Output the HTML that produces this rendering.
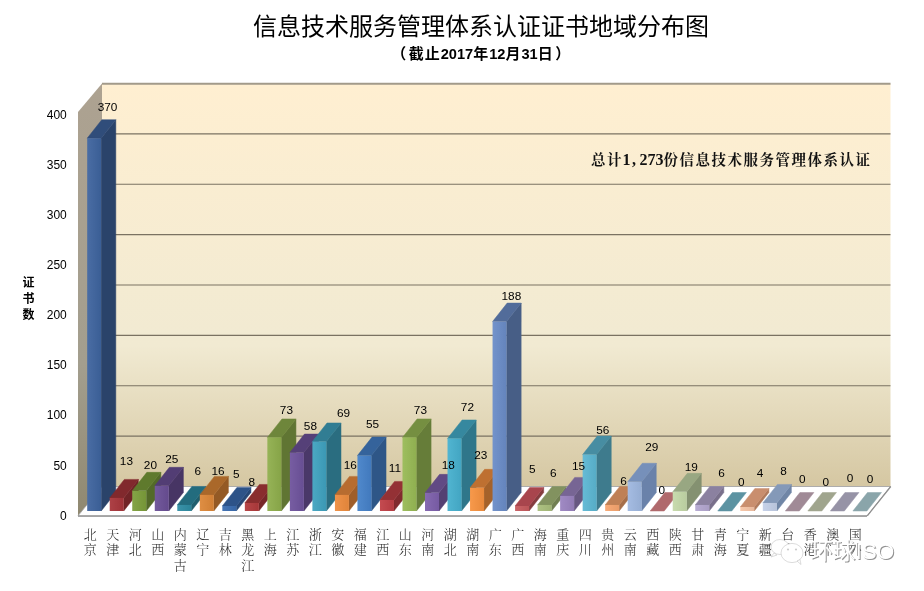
<!DOCTYPE html>
<html lang="zh-CN"><head><meta charset="utf-8"><title>信息技术服务管理体系认证证书地域分布图</title>
<style>
html,body{margin:0;padding:0;background:#fff;overflow:hidden;}
#c{filter:blur(0.35px);position:relative;width:924px;height:591px;overflow:hidden;background:#fff;font-family:"Liberation Sans","Noto Sans CJK SC",sans-serif;color:#000;}
.title{position:absolute;left:253px;top:9.2px;width:456px;font-size:24px;line-height:36px;white-space:nowrap;font-family:"Liberation Sans","Noto Sans CJK SC",sans-serif;color:#000;}
.sub{position:absolute;left:391.2px;top:42px;height:24px;line-height:24px;white-space:nowrap;font-weight:bold;}
.sub .c{font-size:15px;letter-spacing:1px;font-family:"Liberation Sans","Noto Sans CJK SC",sans-serif;}
.sub .n{font-size:14.6px;font-family:"Liberation Sans",sans-serif;}
.note{position:absolute;left:591px;top:148px;height:24px;line-height:24px;white-space:nowrap;font-weight:bold;color:#111;}
.note .c{font-size:14.5px;letter-spacing:1.5px;font-family:"Liberation Serif","Noto Serif CJK SC",serif;}
.note .m{font-size:16px;font-family:"Liberation Serif",serif;margin-left:-0.5px}
.note .m i{font-style:normal;display:inline-block;width:8px;text-align:left;text-indent:1.5px;margin-right:1px}
.ytitle{position:absolute;left:18.5px;top:274.5px;width:20px;text-align:center;font-size:12px;line-height:16px;font-weight:700;font-family:"Liberation Sans","Noto Sans CJK SC",sans-serif;}
.yl{position:absolute;left:20px;width:46.8px;text-align:right;font-size:12px;line-height:16px;height:16px;}
.dl{position:absolute;width:40px;text-align:center;font-size:11.8px;line-height:16px;height:16px;}
.xl{position:absolute;top:526.5px;width:20px;text-align:center;font-size:13px;line-height:15.7px;font-family:"Liberation Serif","Noto Serif CJK SC",serif;color:#2a2a2a;font-weight:300;}
</style></head>
<body><div id="c">
<svg width="924" height="591" viewBox="0 0 924 591" style="position:absolute;left:0;top:0">
<defs>
<linearGradient id="wall" x1="0" y1="0" x2="0" y2="1"><stop offset="0" stop-color="#FFEFD1"/><stop offset="0.65" stop-color="#F1EAD2"/><stop offset="1" stop-color="#D5C7A2"/></linearGradient>
<linearGradient id="side" x1="0" y1="0" x2="0" y2="1"><stop offset="0" stop-color="#ADA291"/><stop offset="0.65" stop-color="#A39E8E"/><stop offset="1" stop-color="#8F8870"/></linearGradient>
<linearGradient id="f0" x1="0" y1="0" x2="1" y2="0"><stop offset="0" stop-color="#4A6DA4"/><stop offset="1" stop-color="#3A5E95"/></linearGradient>
<linearGradient id="f1" x1="0" y1="0" x2="1" y2="0"><stop offset="0" stop-color="#AD4146"/><stop offset="1" stop-color="#9E3237"/></linearGradient>
<linearGradient id="f2" x1="0" y1="0" x2="1" y2="0"><stop offset="0" stop-color="#84A447"/><stop offset="1" stop-color="#759537"/></linearGradient>
<linearGradient id="f3" x1="0" y1="0" x2="1" y2="0"><stop offset="0" stop-color="#735A9C"/><stop offset="1" stop-color="#644A8D"/></linearGradient>
<linearGradient id="f4" x1="0" y1="0" x2="1" y2="0"><stop offset="0" stop-color="#3B93A9"/><stop offset="1" stop-color="#2B8499"/></linearGradient>
<linearGradient id="f5" x1="0" y1="0" x2="1" y2="0"><stop offset="0" stop-color="#DF8E43"/><stop offset="1" stop-color="#D07F34"/></linearGradient>
<linearGradient id="f6" x1="0" y1="0" x2="1" y2="0"><stop offset="0" stop-color="#4675B5"/><stop offset="1" stop-color="#3766A5"/></linearGradient>
<linearGradient id="f7" x1="0" y1="0" x2="1" y2="0"><stop offset="0" stop-color="#B74648"/><stop offset="1" stop-color="#A73738"/></linearGradient>
<linearGradient id="f8" x1="0" y1="0" x2="1" y2="0"><stop offset="0" stop-color="#96B357"/><stop offset="1" stop-color="#86A447"/></linearGradient>
<linearGradient id="f9" x1="0" y1="0" x2="1" y2="0"><stop offset="0" stop-color="#775DA2"/><stop offset="1" stop-color="#674E93"/></linearGradient>
<linearGradient id="f10" x1="0" y1="0" x2="1" y2="0"><stop offset="0" stop-color="#4BA8C3"/><stop offset="1" stop-color="#3B98B4"/></linearGradient>
<linearGradient id="f11" x1="0" y1="0" x2="1" y2="0"><stop offset="0" stop-color="#EF934A"/><stop offset="1" stop-color="#E0843A"/></linearGradient>
<linearGradient id="f12" x1="0" y1="0" x2="1" y2="0"><stop offset="0" stop-color="#5089CC"/><stop offset="1" stop-color="#4179BD"/></linearGradient>
<linearGradient id="f13" x1="0" y1="0" x2="1" y2="0"><stop offset="0" stop-color="#C44B50"/><stop offset="1" stop-color="#B43B41"/></linearGradient>
<linearGradient id="f14" x1="0" y1="0" x2="1" y2="0"><stop offset="0" stop-color="#9EBE5F"/><stop offset="1" stop-color="#8FAF50"/></linearGradient>
<linearGradient id="f15" x1="0" y1="0" x2="1" y2="0"><stop offset="0" stop-color="#866AB1"/><stop offset="1" stop-color="#765AA2"/></linearGradient>
<linearGradient id="f16" x1="0" y1="0" x2="1" y2="0"><stop offset="0" stop-color="#51B5D1"/><stop offset="1" stop-color="#42A5C2"/></linearGradient>
<linearGradient id="f17" x1="0" y1="0" x2="1" y2="0"><stop offset="0" stop-color="#F7994B"/><stop offset="1" stop-color="#E8893B"/></linearGradient>
<linearGradient id="f18" x1="0" y1="0" x2="1" y2="0"><stop offset="0" stop-color="#7393CB"/><stop offset="1" stop-color="#6484BC"/></linearGradient>
<linearGradient id="f19" x1="0" y1="0" x2="1" y2="0"><stop offset="0" stop-color="#CA6468"/><stop offset="1" stop-color="#BB5558"/></linearGradient>
<linearGradient id="f20" x1="0" y1="0" x2="1" y2="0"><stop offset="0" stop-color="#AEC283"/><stop offset="1" stop-color="#9FB374"/></linearGradient>
<linearGradient id="f21" x1="0" y1="0" x2="1" y2="0"><stop offset="0" stop-color="#A08AC4"/><stop offset="1" stop-color="#917BB4"/></linearGradient>
<linearGradient id="f22" x1="0" y1="0" x2="1" y2="0"><stop offset="0" stop-color="#66BBD6"/><stop offset="1" stop-color="#56ACC6"/></linearGradient>
<linearGradient id="f23" x1="0" y1="0" x2="1" y2="0"><stop offset="0" stop-color="#F8AB78"/><stop offset="1" stop-color="#E99C68"/></linearGradient>
<linearGradient id="f24" x1="0" y1="0" x2="1" y2="0"><stop offset="0" stop-color="#A5BCE2"/><stop offset="1" stop-color="#95ADD3"/></linearGradient>
<linearGradient id="f25" x1="0" y1="0" x2="1" y2="0"><stop offset="0" stop-color="#DBA0A1"/><stop offset="1" stop-color="#CC9192"/></linearGradient>
<linearGradient id="f26" x1="0" y1="0" x2="1" y2="0"><stop offset="0" stop-color="#C8DBAE"/><stop offset="1" stop-color="#B9CC9F"/></linearGradient>
<linearGradient id="f27" x1="0" y1="0" x2="1" y2="0"><stop offset="0" stop-color="#B8ACD3"/><stop offset="1" stop-color="#A99DC4"/></linearGradient>
<linearGradient id="f28" x1="0" y1="0" x2="1" y2="0"><stop offset="0" stop-color="#A2D2DE"/><stop offset="1" stop-color="#93C3CF"/></linearGradient>
<linearGradient id="f29" x1="0" y1="0" x2="1" y2="0"><stop offset="0" stop-color="#F7C8AB"/><stop offset="1" stop-color="#E7B89C"/></linearGradient>
<linearGradient id="f30" x1="0" y1="0" x2="1" y2="0"><stop offset="0" stop-color="#C7D2E9"/><stop offset="1" stop-color="#B7C3DA"/></linearGradient>
<linearGradient id="f31" x1="0" y1="0" x2="1" y2="0"><stop offset="0" stop-color="#E6C8C9"/><stop offset="1" stop-color="#D6B8BA"/></linearGradient>
<linearGradient id="f32" x1="0" y1="0" x2="1" y2="0"><stop offset="0" stop-color="#DEE7CB"/><stop offset="1" stop-color="#CFD7BC"/></linearGradient>
<linearGradient id="f33" x1="0" y1="0" x2="1" y2="0"><stop offset="0" stop-color="#D5CDE4"/><stop offset="1" stop-color="#C5BED4"/></linearGradient>
<linearGradient id="f34" x1="0" y1="0" x2="1" y2="0"><stop offset="0" stop-color="#C8E3E9"/><stop offset="1" stop-color="#B8D4DA"/></linearGradient>
</defs>
<polygon points="78,112 102,83.5 102,486.5 78,515.8" fill="url(#side)"/>
<rect x="102" y="83.5" width="788.5" height="403" fill="url(#wall)"/>
<line x1="102" y1="83.8" x2="890.5" y2="83.8" stroke="#A29A8A" stroke-width="1.9"/>
<line x1="102" y1="436.12" x2="890.5" y2="436.12" stroke="#7A7262" stroke-width="1.1"/>
<line x1="102" y1="385.75" x2="890.5" y2="385.75" stroke="#7A7262" stroke-width="1.1"/>
<line x1="102" y1="335.38" x2="890.5" y2="335.38" stroke="#7A7262" stroke-width="1.1"/>
<line x1="102" y1="285.00" x2="890.5" y2="285.00" stroke="#7A7262" stroke-width="1.1"/>
<line x1="102" y1="234.62" x2="890.5" y2="234.62" stroke="#7A7262" stroke-width="1.1"/>
<line x1="102" y1="184.25" x2="890.5" y2="184.25" stroke="#7A7262" stroke-width="1.1"/>
<line x1="102" y1="133.88" x2="890.5" y2="133.88" stroke="#7A7262" stroke-width="1.1"/>
<polygon points="78,515.8 102,486.5 890.5,486.5 867,515.8" fill="#FFFFFF" stroke="#9A9A9A" stroke-width="0.8"/>
<line x1="78" y1="516.1" x2="867" y2="516.1" stroke="#8E8E8E" stroke-width="1.4"/>
<line x1="867.3" y1="515.8" x2="890.8" y2="486.5" stroke="#8E8E8E" stroke-width="1.2"/>
<polygon points="101.20,511.00 115.80,492.50 115.80,119.72 101.20,138.22" fill="#2A436A" stroke="#2A436A" stroke-width="0.5" stroke-linejoin="round"/>
<polygon points="87.20,138.22 101.20,138.22 115.80,119.72 101.80,119.72" fill="#304D7A" stroke="#304D7A" stroke-width="0.5" stroke-linejoin="round"/>
<rect x="87.20" y="138.22" width="14.00" height="372.78" fill="url(#f0)"/>
<polygon points="123.72,511.00 138.32,492.50 138.32,479.40 123.72,497.90" fill="#712427" stroke="#712427" stroke-width="0.5" stroke-linejoin="round"/>
<polygon points="109.72,497.90 123.72,497.90 138.32,479.40 124.32,479.40" fill="#81292D" stroke="#81292D" stroke-width="0.5" stroke-linejoin="round"/>
<rect x="109.72" y="497.90" width="14.00" height="13.10" fill="url(#f1)"/>
<polygon points="146.24,511.00 160.84,492.50 160.84,472.35 146.24,490.85" fill="#536A28" stroke="#536A28" stroke-width="0.5" stroke-linejoin="round"/>
<polygon points="132.24,490.85 146.24,490.85 160.84,472.35 146.84,472.35" fill="#5F7A2D" stroke="#5F7A2D" stroke-width="0.5" stroke-linejoin="round"/>
<rect x="132.24" y="490.85" width="14.00" height="20.15" fill="url(#f2)"/>
<polygon points="168.76,511.00 183.36,492.50 183.36,467.31 168.76,485.81" fill="#473564" stroke="#473564" stroke-width="0.5" stroke-linejoin="round"/>
<polygon points="154.76,485.81 168.76,485.81 183.36,467.31 169.36,467.31" fill="#523D74" stroke="#523D74" stroke-width="0.5" stroke-linejoin="round"/>
<rect x="154.76" y="485.81" width="14.00" height="25.19" fill="url(#f3)"/>
<polygon points="191.28,511.00 205.88,492.50 205.88,486.45 191.28,504.95" fill="#1F5E6D" stroke="#1F5E6D" stroke-width="0.5" stroke-linejoin="round"/>
<polygon points="177.28,504.95 191.28,504.95 205.88,486.45 191.88,486.45" fill="#236C7E" stroke="#236C7E" stroke-width="0.5" stroke-linejoin="round"/>
<rect x="177.28" y="504.95" width="14.00" height="6.04" fill="url(#f4)"/>
<polygon points="213.80,511.00 228.40,492.50 228.40,476.38 213.80,494.88" fill="#945A25" stroke="#945A25" stroke-width="0.5" stroke-linejoin="round"/>
<polygon points="199.80,494.88 213.80,494.88 228.40,476.38 214.40,476.38" fill="#AA682A" stroke="#AA682A" stroke-width="0.5" stroke-linejoin="round"/>
<rect x="199.80" y="494.88" width="14.00" height="16.12" fill="url(#f5)"/>
<polygon points="236.32,511.00 250.92,492.50 250.92,487.46 236.32,505.96" fill="#274876" stroke="#274876" stroke-width="0.5" stroke-linejoin="round"/>
<polygon points="222.32,505.96 236.32,505.96 250.92,487.46 236.92,487.46" fill="#2D5388" stroke="#2D5388" stroke-width="0.5" stroke-linejoin="round"/>
<rect x="222.32" y="505.96" width="14.00" height="5.04" fill="url(#f6)"/>
<polygon points="258.84,511.00 273.44,492.50 273.44,484.44 258.84,502.94" fill="#772728" stroke="#772728" stroke-width="0.5" stroke-linejoin="round"/>
<polygon points="244.84,502.94 258.84,502.94 273.44,484.44 259.44,484.44" fill="#892D2E" stroke="#892D2E" stroke-width="0.5" stroke-linejoin="round"/>
<rect x="244.84" y="502.94" width="14.00" height="8.06" fill="url(#f7)"/>
<polygon points="281.36,511.00 295.96,492.50 295.96,418.95 281.36,437.45" fill="#607533" stroke="#607533" stroke-width="0.5" stroke-linejoin="round"/>
<polygon points="267.36,437.45 281.36,437.45 295.96,418.95 281.96,418.95" fill="#6E863B" stroke="#6E863B" stroke-width="0.5" stroke-linejoin="round"/>
<rect x="267.36" y="437.45" width="14.00" height="73.55" fill="url(#f8)"/>
<polygon points="303.88,511.00 318.48,492.50 318.48,434.06 303.88,452.56" fill="#4A3869" stroke="#4A3869" stroke-width="0.5" stroke-linejoin="round"/>
<polygon points="289.88,452.56 303.88,452.56 318.48,434.06 304.48,434.06" fill="#554078" stroke="#554078" stroke-width="0.5" stroke-linejoin="round"/>
<rect x="289.88" y="452.56" width="14.00" height="58.44" fill="url(#f9)"/>
<polygon points="326.40,511.00 341.00,492.50 341.00,422.98 326.40,441.48" fill="#2A6D80" stroke="#2A6D80" stroke-width="0.5" stroke-linejoin="round"/>
<polygon points="312.40,441.48 326.40,441.48 341.00,422.98 327.00,422.98" fill="#317D93" stroke="#317D93" stroke-width="0.5" stroke-linejoin="round"/>
<rect x="312.40" y="441.48" width="14.00" height="69.52" fill="url(#f10)"/>
<polygon points="348.92,511.00 363.52,492.50 363.52,476.38 348.92,494.88" fill="#9F5E2A" stroke="#9F5E2A" stroke-width="0.5" stroke-linejoin="round"/>
<polygon points="334.92,494.88 348.92,494.88 363.52,476.38 349.52,476.38" fill="#B76C30" stroke="#B76C30" stroke-width="0.5" stroke-linejoin="round"/>
<rect x="334.92" y="494.88" width="14.00" height="16.12" fill="url(#f11)"/>
<polygon points="371.44,511.00 386.04,492.50 386.04,437.09 371.44,455.59" fill="#2E5687" stroke="#2E5687" stroke-width="0.5" stroke-linejoin="round"/>
<polygon points="357.44,455.59 371.44,455.59 386.04,437.09 372.04,437.09" fill="#35639B" stroke="#35639B" stroke-width="0.5" stroke-linejoin="round"/>
<rect x="357.44" y="455.59" width="14.00" height="55.41" fill="url(#f12)"/>
<polygon points="393.96,511.00 408.56,492.50 408.56,481.42 393.96,499.92" fill="#812A2E" stroke="#812A2E" stroke-width="0.5" stroke-linejoin="round"/>
<polygon points="379.96,499.92 393.96,499.92 408.56,481.42 394.56,481.42" fill="#943135" stroke="#943135" stroke-width="0.5" stroke-linejoin="round"/>
<rect x="379.96" y="499.92" width="14.00" height="11.08" fill="url(#f13)"/>
<polygon points="416.48,511.00 431.08,492.50 431.08,418.95 416.48,437.45" fill="#667D39" stroke="#667D39" stroke-width="0.5" stroke-linejoin="round"/>
<polygon points="402.48,437.45 416.48,437.45 431.08,418.95 417.08,418.95" fill="#758F41" stroke="#758F41" stroke-width="0.5" stroke-linejoin="round"/>
<rect x="402.48" y="437.45" width="14.00" height="73.55" fill="url(#f14)"/>
<polygon points="439.00,511.00 453.60,492.50 453.60,474.37 439.00,492.87" fill="#544073" stroke="#544073" stroke-width="0.5" stroke-linejoin="round"/>
<polygon points="425.00,492.87 439.00,492.87 453.60,474.37 439.60,474.37" fill="#614A84" stroke="#614A84" stroke-width="0.5" stroke-linejoin="round"/>
<rect x="425.00" y="492.87" width="14.00" height="18.14" fill="url(#f15)"/>
<polygon points="461.52,511.00 476.12,492.50 476.12,419.96 461.52,438.46" fill="#2F768A" stroke="#2F768A" stroke-width="0.5" stroke-linejoin="round"/>
<polygon points="447.52,438.46 461.52,438.46 476.12,419.96 462.12,419.96" fill="#36889F" stroke="#36889F" stroke-width="0.5" stroke-linejoin="round"/>
<rect x="447.52" y="438.46" width="14.00" height="72.54" fill="url(#f16)"/>
<polygon points="484.04,511.00 498.64,492.50 498.64,469.33 484.04,487.83" fill="#A5622A" stroke="#A5622A" stroke-width="0.5" stroke-linejoin="round"/>
<polygon points="470.04,487.83 484.04,487.83 498.64,469.33 484.64,469.33" fill="#BE7031" stroke="#BE7031" stroke-width="0.5" stroke-linejoin="round"/>
<rect x="470.04" y="487.83" width="14.00" height="23.17" fill="url(#f17)"/>
<polygon points="506.56,511.00 521.16,492.50 521.16,303.09 506.56,321.59" fill="#475E86" stroke="#475E86" stroke-width="0.5" stroke-linejoin="round"/>
<polygon points="492.56,321.59 506.56,321.59 521.16,303.09 507.16,303.09" fill="#526C9A" stroke="#526C9A" stroke-width="0.5" stroke-linejoin="round"/>
<rect x="492.56" y="321.59" width="14.00" height="189.41" fill="url(#f18)"/>
<polygon points="529.08,511.00 543.68,492.50 543.68,487.46 529.08,505.96" fill="#853C3F" stroke="#853C3F" stroke-width="0.5" stroke-linejoin="round"/>
<polygon points="515.08,505.96 529.08,505.96 543.68,487.46 529.68,487.46" fill="#A8454D" stroke="#A8454D" stroke-width="0.5" stroke-linejoin="round"/>
<rect x="515.08" y="505.96" width="14.00" height="5.04" fill="url(#f19)"/>
<polygon points="551.60,511.00 566.20,492.50 566.20,486.45 551.60,504.95" fill="#717F52" stroke="#717F52" stroke-width="0.5" stroke-linejoin="round"/>
<polygon points="537.60,504.95 551.60,504.95 566.20,486.45 552.20,486.45" fill="#82925F" stroke="#82925F" stroke-width="0.5" stroke-linejoin="round"/>
<rect x="537.60" y="504.95" width="14.00" height="6.04" fill="url(#f20)"/>
<polygon points="574.12,511.00 588.72,492.50 588.72,477.39 574.12,495.89" fill="#675881" stroke="#675881" stroke-width="0.5" stroke-linejoin="round"/>
<polygon points="560.12,495.89 574.12,495.89 588.72,477.39 574.72,477.39" fill="#776594" stroke="#776594" stroke-width="0.5" stroke-linejoin="round"/>
<rect x="560.12" y="495.89" width="14.00" height="15.11" fill="url(#f21)"/>
<polygon points="596.64,511.00 611.24,492.50 611.24,436.08 596.64,454.58" fill="#3E7B8D" stroke="#3E7B8D" stroke-width="0.5" stroke-linejoin="round"/>
<polygon points="582.64,454.58 596.64,454.58 611.24,436.08 597.24,436.08" fill="#478DA2" stroke="#478DA2" stroke-width="0.5" stroke-linejoin="round"/>
<rect x="582.64" y="454.58" width="14.00" height="56.42" fill="url(#f22)"/>
<polygon points="619.16,511.00 633.76,492.50 633.76,486.45 619.16,504.95" fill="#A66F4A" stroke="#A66F4A" stroke-width="0.5" stroke-linejoin="round"/>
<polygon points="605.16,504.95 619.16,504.95 633.76,486.45 619.76,486.45" fill="#BF8055" stroke="#BF8055" stroke-width="0.5" stroke-linejoin="round"/>
<rect x="605.16" y="504.95" width="14.00" height="6.04" fill="url(#f23)"/>
<polygon points="641.68,511.00 656.28,492.50 656.28,463.28 641.68,481.78" fill="#6A82AA" stroke="#6A82AA" stroke-width="0.5" stroke-linejoin="round"/>
<polygon points="627.68,481.78 641.68,481.78 656.28,463.28 642.28,463.28" fill="#7690BA" stroke="#7690BA" stroke-width="0.5" stroke-linejoin="round"/>
<rect x="627.68" y="481.78" width="14.00" height="29.22" fill="url(#f24)"/>
<polygon points="650.20,511.00 664.20,511.00 678.80,492.50 664.80,492.50" fill="#B0696C" stroke="#B0696C" stroke-width="0.5" stroke-linejoin="round"/>
<polygon points="686.72,511.00 701.32,492.50 701.32,473.36 686.72,491.86" fill="#849171" stroke="#849171" stroke-width="0.5" stroke-linejoin="round"/>
<polygon points="672.72,491.86 686.72,491.86 701.32,473.36 687.32,473.36" fill="#98A782" stroke="#98A782" stroke-width="0.5" stroke-linejoin="round"/>
<rect x="672.72" y="491.86" width="14.00" height="19.14" fill="url(#f26)"/>
<polygon points="709.24,511.00 723.84,492.50 723.84,486.45 709.24,504.95" fill="#79708B" stroke="#79708B" stroke-width="0.5" stroke-linejoin="round"/>
<polygon points="695.24,504.95 709.24,504.95 723.84,486.45 709.84,486.45" fill="#8B81A0" stroke="#8B81A0" stroke-width="0.5" stroke-linejoin="round"/>
<rect x="695.24" y="504.95" width="14.00" height="6.04" fill="url(#f27)"/>
<polygon points="717.76,511.00 731.76,511.00 746.36,492.50 732.36,492.50" fill="#5C93A2" stroke="#5C93A2" stroke-width="0.5" stroke-linejoin="round"/>
<polygon points="754.28,511.00 768.88,492.50 768.88,488.47 754.28,506.97" fill="#B07A5C" stroke="#B07A5C" stroke-width="0.5" stroke-linejoin="round"/>
<polygon points="740.28,506.97 754.28,506.97 768.88,488.47 754.88,488.47" fill="#C98E6E" stroke="#C98E6E" stroke-width="0.5" stroke-linejoin="round"/>
<rect x="740.28" y="506.97" width="14.00" height="4.03" fill="url(#f29)"/>
<polygon points="776.80,511.00 791.40,492.50 791.40,484.44 776.80,502.94" fill="#7086A6" stroke="#7086A6" stroke-width="0.5" stroke-linejoin="round"/>
<polygon points="762.80,502.94 776.80,502.94 791.40,484.44 777.40,484.44" fill="#8499B8" stroke="#8499B8" stroke-width="0.5" stroke-linejoin="round"/>
<rect x="762.80" y="502.94" width="14.00" height="8.06" fill="url(#f30)"/>
<polygon points="785.32,511.00 799.32,511.00 813.92,492.50 799.92,492.50" fill="#A08A96" stroke="#A08A96" stroke-width="0.5" stroke-linejoin="round"/>
<polygon points="807.84,511.00 821.84,511.00 836.44,492.50 822.44,492.50" fill="#A0A58E" stroke="#A0A58E" stroke-width="0.5" stroke-linejoin="round"/>
<polygon points="830.36,511.00 844.36,511.00 858.96,492.50 844.96,492.50" fill="#9693A6" stroke="#9693A6" stroke-width="0.5" stroke-linejoin="round"/>
<polygon points="852.88,511.00 866.88,511.00 881.48,492.50 867.48,492.50" fill="#8AA5AA" stroke="#8AA5AA" stroke-width="0.5" stroke-linejoin="round"/>
</svg>
<div class="title">信息技术服务管理体系认证证书地域分布图</div>
<div class="sub"><span class="c" style="letter-spacing:2.5px">（</span><span class="c">截止</span><span class="n">2017</span><span class="c">年</span><span class="n">12</span><span class="c">月</span><span class="n">31</span><span class="c" style="letter-spacing:2.5px">日</span><span class="c">）</span></div>
<div class="note"><span class="c">总计</span><span class="m">1<i>,</i>273</span><span class="c">份信息技术服务管理体系认证</span></div>
<div class="ytitle">证<br>书<br>数</div>
<div class="yl" style="top:507.6px">0</div>
<div class="yl" style="top:457.5px">50</div>
<div class="yl" style="top:407.4px">100</div>
<div class="yl" style="top:357.3px">150</div>
<div class="yl" style="top:307.2px">200</div>
<div class="yl" style="top:257.1px">250</div>
<div class="yl" style="top:207.0px">300</div>
<div class="yl" style="top:156.9px">350</div>
<div class="yl" style="top:106.8px">400</div>
<div class="dl" style="left:87.6px;top:98.8px">370</div>
<div class="dl" style="left:106.4px;top:453.3px">13</div>
<div class="dl" style="left:130.4px;top:456.9px">20</div>
<div class="dl" style="left:151.7px;top:450.9px">25</div>
<div class="dl" style="left:177.8px;top:462.9px">6</div>
<div class="dl" style="left:198.1px;top:463.4px">16</div>
<div class="dl" style="left:216.4px;top:466.1px">5</div>
<div class="dl" style="left:231.9px;top:473.7px">8</div>
<div class="dl" style="left:266.4px;top:402.2px">73</div>
<div class="dl" style="left:290.4px;top:418.3px">58</div>
<div class="dl" style="left:323.6px;top:404.6px">69</div>
<div class="dl" style="left:330.2px;top:456.7px">16</div>
<div class="dl" style="left:352.5px;top:416.1px">55</div>
<div class="dl" style="left:374.9px;top:460.0px">11</div>
<div class="dl" style="left:400.4px;top:402.2px">73</div>
<div class="dl" style="left:428.3px;top:457.4px">18</div>
<div class="dl" style="left:447.4px;top:398.9px">72</div>
<div class="dl" style="left:460.8px;top:447.1px">23</div>
<div class="dl" style="left:491.4px;top:288.0px">188</div>
<div class="dl" style="left:512.4px;top:461.2px">5</div>
<div class="dl" style="left:533.4px;top:465.3px">6</div>
<div class="dl" style="left:558.5px;top:457.5px">15</div>
<div class="dl" style="left:582.7px;top:421.5px">56</div>
<div class="dl" style="left:603.6px;top:473.3px">6</div>
<div class="dl" style="left:631.7px;top:439.2px">29</div>
<div class="dl" style="left:641.9px;top:482.1px">0</div>
<div class="dl" style="left:671.3px;top:458.8px">19</div>
<div class="dl" style="left:701.5px;top:464.9px">6</div>
<div class="dl" style="left:721.4px;top:473.8px">0</div>
<div class="dl" style="left:740.0px;top:465.1px">4</div>
<div class="dl" style="left:763.5px;top:462.9px">8</div>
<div class="dl" style="left:782.3px;top:471.2px">0</div>
<div class="dl" style="left:805.8px;top:474.0px">0</div>
<div class="dl" style="left:830.1px;top:470.1px">0</div>
<div class="dl" style="left:850.0px;top:471.2px">0</div>
<div class="xl" style="left:80.3px">北<br>京</div>
<div class="xl" style="left:102.8px">天<br>津</div>
<div class="xl" style="left:125.3px">河<br>北</div>
<div class="xl" style="left:147.8px">山<br>西</div>
<div class="xl" style="left:170.3px">内<br>蒙<br>古</div>
<div class="xl" style="left:192.8px">辽<br>宁</div>
<div class="xl" style="left:215.3px">吉<br>林</div>
<div class="xl" style="left:237.8px">黑<br>龙<br>江</div>
<div class="xl" style="left:260.3px">上<br>海</div>
<div class="xl" style="left:282.8px">江<br>苏</div>
<div class="xl" style="left:305.3px">浙<br>江</div>
<div class="xl" style="left:327.8px">安<br>徽</div>
<div class="xl" style="left:350.3px">福<br>建</div>
<div class="xl" style="left:372.8px">江<br>西</div>
<div class="xl" style="left:395.3px">山<br>东</div>
<div class="xl" style="left:417.8px">河<br>南</div>
<div class="xl" style="left:440.3px">湖<br>北</div>
<div class="xl" style="left:462.8px">湖<br>南</div>
<div class="xl" style="left:485.3px">广<br>东</div>
<div class="xl" style="left:507.8px">广<br>西</div>
<div class="xl" style="left:530.3px">海<br>南</div>
<div class="xl" style="left:552.8px">重<br>庆</div>
<div class="xl" style="left:575.3px">四<br>川</div>
<div class="xl" style="left:597.8px">贵<br>州</div>
<div class="xl" style="left:620.3px">云<br>南</div>
<div class="xl" style="left:642.8px">西<br>藏</div>
<div class="xl" style="left:665.3px">陕<br>西</div>
<div class="xl" style="left:687.8px">甘<br>肃</div>
<div class="xl" style="left:710.3px">青<br>海</div>
<div class="xl" style="left:732.8px">宁<br>夏</div>
<div class="xl" style="left:755.3px">新<br>疆</div>
<div class="xl" style="left:777.8px">台<br>湾</div>
<div class="xl" style="left:800.3px">香<br>港</div>
<div class="xl" style="left:822.8px">澳<br>门</div>
<div class="xl" style="left:845.3px">国<br>外</div>
<svg width="924" height="591" viewBox="0 0 924 591" style="position:absolute;left:0;top:0">
<g fill="#fff" stroke="#c4c4c4" stroke-width="0.6">
<ellipse cx="780" cy="547" rx="9" ry="7.5"/>
<path d="M774,553 l-3,4 l6,-2z"/>
<ellipse cx="792" cy="553" rx="11" ry="9.6"/>
<path d="M797,561 l4,3.5 l-1,-5z"/>
</g>
<circle cx="788" cy="549.5" r="1.1" fill="#ccc"/><circle cx="796" cy="549.5" r="1.1" fill="#ccc"/>
<text x="810.5" y="559.2" font-family="'Liberation Sans','Noto Sans CJK SC',sans-serif" font-size="22.5" fill="#777" opacity="0.8" transform="translate(0.9,0.6)">环球ISO</text>
<text x="810.5" y="559.2" font-family="'Liberation Sans','Noto Sans CJK SC',sans-serif" font-size="22.5" fill="#fff">环球ISO</text>
</svg>
</div></body></html>
